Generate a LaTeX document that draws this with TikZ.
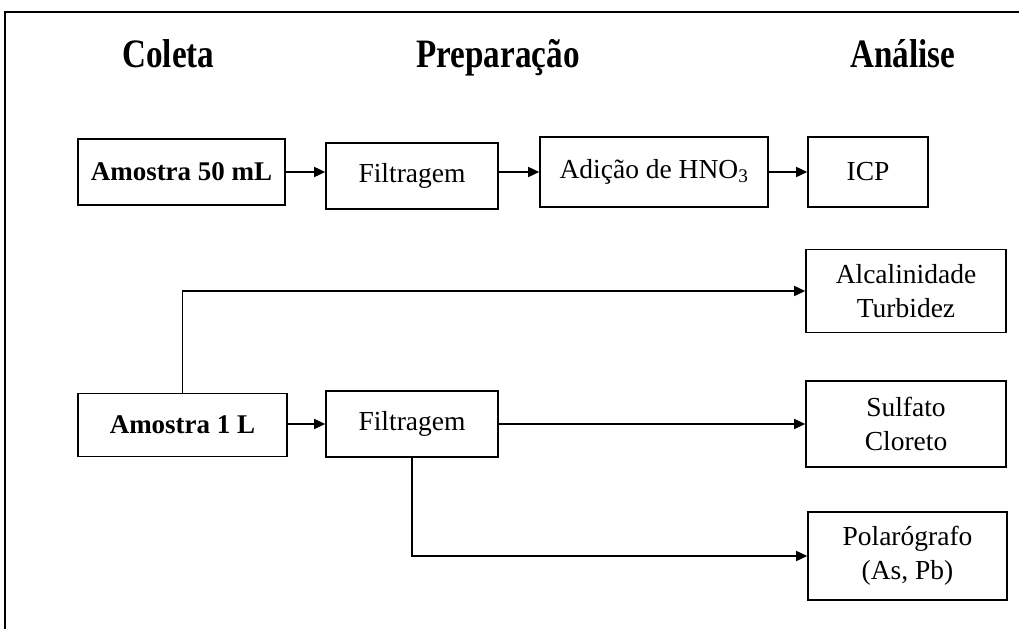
\documentclass[tikz,border=0pt]{standalone}
\usepackage{fontspec}
\setmainfont{Liberation Serif}
\usetikzlibrary{arrows.meta}
\newcommand{\tallhead}[1]{\scalebox{0.92}[1.12]{#1}}
\begin{document}
\begin{tikzpicture}[x=1pt,y=-1pt,
  box/.style={draw, line width=1.6pt, inner sep=0pt, align=center,
    font=\fontsize{27.5}{34}\selectfont},
  boldbox/.style={box, font=\bfseries\fontsize{27}{34}\selectfont},
  head/.style={anchor=base, font=\bfseries\fontsize{36}{40}\selectfont},
  link/.style={line width=1.5pt, -{Triangle[length=11pt,width=10pt]}}]
\useasboundingbox (0,0) rectangle (1019,629);

% frame
\draw[line width=2pt] (5,629) -- (5,12) -- (1019,12);

% column headings
\node[head] (hcol) at (168.5,67) {\tallhead{Coleta}};
\node[head] (hprep) at (498,67) {\tallhead{Preparação}};
\node[head] (hana) at (903,67) {\tallhead{Análise}};

% 50 mL sample line
\node[boldbox, minimum width=207pt, minimum height=66pt] (a50) at (181.5,172) {Amostra 50 mL};
\node[box, minimum width=172pt, minimum height=66pt] (f1) at (412,176) {Filtragem};
\node[box, minimum width=228pt, minimum height=70pt] (adi) at (654,172) {Adição de HNO\textsubscript{3}};
\node[box, minimum width=120pt, minimum height=70pt] (icp) at (868,172) {ICP};

% 1 L sample line
\node[boldbox, minimum width=209pt, minimum height=63pt] (a1) at (182.5,425) {Amostra 1 L};
\node[box, minimum width=172pt, minimum height=66pt] (f2) at (412,424) {Filtragem};
\node[box, minimum width=200pt, minimum height=83pt] (alc) at (906,291) {Alcalinidade\\Turbidez};
\node[box, minimum width=200pt, minimum height=86pt] (sul) at (906,424) {Sulfato\\Cloreto};
\node[box, minimum width=199pt, minimum height=88pt] (pol) at (907.5,556) {Polarógrafo\\(As, Pb)};

% connectors
\draw[link] (a50.east) -- (a50.east -| f1.west);
\draw[link] (f1.east |- a50.east) -- (a50.east -| adi.west);
\draw[link] (adi.east) -- (icp.west);
\draw[link] (a1.east |- f2.west) -- (f2.west);
\draw[link] (a1.north) |- (alc.west);
\draw[link] (f2.east) -- (sul.west);
\draw[link] (f2.south) |- (pol.west);
\end{tikzpicture}
\end{document}
